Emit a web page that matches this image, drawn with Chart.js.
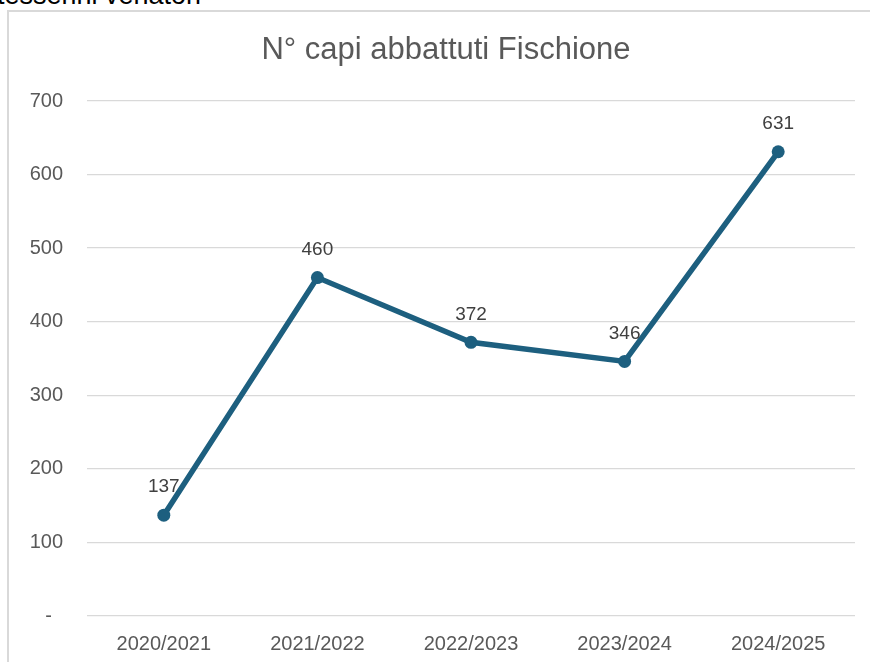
<!DOCTYPE html>
<html>
<head>
<meta charset="utf-8">
<script src="https://cdn.jsdelivr.net/npm/chart.js@4"></script>
<style>
    html, body { margin: 0; padding: 0; background: #fff; overflow: hidden; }
    body { width: 870px; height: 662px; position: relative; font-family: "Liberation Sans", Arial, sans-serif; }
    .caption { position: absolute; left: -3px; top: -20px; font-size: 27px; color: #000; white-space: nowrap; }
    .box { position: absolute; left: 7px; top: 10px; width: 880px; height: 680px; border: 2px solid #d9d9d9; background: #fff; }
    .wrap { position: absolute; left: 0; top: 0; width: 870px; height: 662px; }
</style>
</head>
<body>
<div class="caption">tesserini venatori</div>
<div class="box"></div>
<div class="wrap"><canvas id="fischioneChart"></canvas></div>
<script>
// Dati: capi abbattuti per stagione
const seasons = ['2020/2021', '2021/2022', '2022/2023', '2023/2024', '2024/2025'];
const killed = [137, 460, 372, 346, 631];
const yTicks = [0, 100, 200, 300, 400, 500, 600, 700];
const chartTitle = 'N° capi abbattuti Fischione';

const lineColor = '#1d5f7f';
const textColor = '#595959';
const fontFamily = '"Liberation Sans", Arial, sans-serif';

// Titolo disegnato a mano (centrato come in Excel, non sul canvas)
const titlePlugin = {
    id: 'excelTitle',
    afterDraw(chart) {
        const ctx = chart.ctx;
        ctx.save();
        ctx.font = '31px ' + fontFamily;
        ctx.fillStyle = textColor;
        ctx.textAlign = 'center';
        ctx.textBaseline = 'middle';
        ctx.fillText(chartTitle, 446, 50);
        ctx.restore();
    }
};

// Etichette dei valori sopra i punti
const valueLabels = {
    id: 'valueLabels',
    afterDatasetsDraw(chart) {
        const ctx = chart.ctx;
        const meta = chart.getDatasetMeta(0);
        ctx.save();
        ctx.font = '19px ' + fontFamily;
        ctx.fillStyle = '#404040';
        ctx.textAlign = 'center';
        ctx.textBaseline = 'middle';
        meta.data.forEach((pt, i) => {
            ctx.fillText(String(chart.data.datasets[0].data[i]), pt.x, pt.y - 28);
        });
        ctx.restore();
    }
};

const ctx = document.getElementById('fischioneChart').getContext('2d');
new Chart(ctx, {
    type: 'line',
    data: {
        labels: seasons,
        datasets: [{
            label: 'N° capi abbattuti',
            data: killed,
            borderColor: lineColor,
            backgroundColor: lineColor,
            borderWidth: 5.5,
            pointRadius: 6.5,
            pointHoverRadius: 6.5,
            pointBackgroundColor: lineColor,
            pointBorderWidth: 0,
            tension: 0
        }]
    },
    options: {
        responsive: true,
        maintainAspectRatio: false,
        animation: false,
        layout: { padding: { left: 0, right: 15, top: 101, bottom: 0 } },
        plugins: {
            legend: { display: false },
            tooltip: { enabled: false },
            title: { display: false }
        },
        scales: {
            x: {
                offset: true,
                grid: { display: false, drawTicks: false },
                border: { display: false },
                ticks: {
                    color: textColor,
                    font: { family: fontFamily, size: 20 },
                    padding: 16,
                    maxRotation: 0
                },
                afterFit(scale) { scale.height = 46; }
            },
            y: {
                min: 0,
                max: 700,
                grid: { color: '#d9d9d9', lineWidth: 1.3, drawTicks: false },
                border: { display: false },
                afterBuildTicks(scale) { scale.ticks = yTicks.map(v => ({ value: v })); },
                ticks: {
                    color: textColor,
                    font: { family: fontFamily, size: 20 },
                    padding: 24,
                    callback: v => v === 0 ? '-  ' : v
                },
                afterFit(scale) { scale.width = 87; }
            }
        }
    },
    plugins: [valueLabels, titlePlugin]
});
</script>
</body>
</html>
